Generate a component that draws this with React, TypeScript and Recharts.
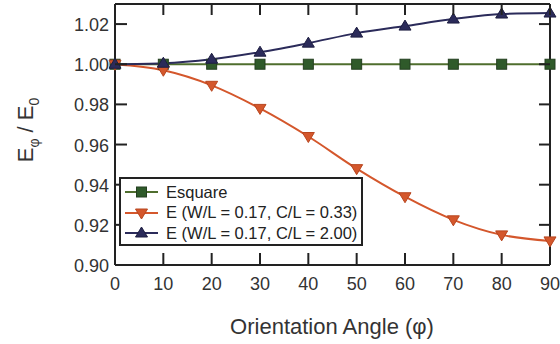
import { Line, LineChart, ReferenceLine, XAxis, YAxis } from "recharts";

const angles = [0, 10, 20, 30, 40, 50, 60, 70, 80, 90];
const esquare = [1.0, 1.0, 1.0, 1.0, 1.0, 1.0, 1.0, 1.0, 1.0, 1.0];
const eLowCL = [1.0, 0.997, 0.9895, 0.978, 0.964, 0.948, 0.934, 0.9225, 0.915, 0.912];
const eHighCL = [1.0, 1.0005, 1.0025, 1.006, 1.0105, 1.0155, 1.019, 1.0225, 1.025, 1.0255];
const xTicks = [0, 10, 20, 30, 40, 50, 60, 70, 80, 90];
const yTicks = [0.9, 0.92, 0.94, 0.96, 0.98, 1.0, 1.02];

const data = angles.map((a, i) => ({ angle: a, sq: esquare[i], low: eLowCL[i], high: eHighCL[i] }));

const FONT = "'Liberation Sans', Arial, sans-serif";
const INK = "#222";
const TEXT = "#333";
const GREEN = "#2f5a2a";
const GREEN_LINE = "#4f6e2e";
const ORANGE = "#d4572c";
const NAVY = "#2b2b5a";

// plot frame edges (px)
const LEFT = 115;
const RIGHT = 550;
const TOP = 4;
const BOTTOM = 265;

function Square(props: any) {
  const { cx, cy } = props;
  if (cx == null || cy == null) return null;
  return <rect x={cx - 5} y={cy - 5} width={10} height={10} fill={GREEN} stroke="#243f20" strokeWidth={1} />;
}

function Down(props: any) {
  const { cx, cy } = props;
  if (cx == null || cy == null) return null;
  return <path d={`M${cx - 6},${cy - 4} L${cx + 6},${cy - 4} L${cx},${cy + 6} Z`} fill={ORANGE} stroke="#b8461f" strokeWidth={1} />;
}

function Up(props: any) {
  const { cx, cy } = props;
  if (cx == null || cy == null) return null;
  return <path d={`M${cx - 6},${cy + 4} L${cx + 6},${cy + 4} L${cx},${cy - 6} Z`} fill={NAVY} stroke="#1d1d40" strokeWidth={1} />;
}

// x ticks: inward marks on bottom and top edges, label below
function bottomTick(p: any) {
  const { x, payload } = p;
  return (
    <g key={`b${payload.value}`}>
      <path d={`M${x},${BOTTOM}V${BOTTOM - 12}`} stroke={INK} strokeWidth={2} fill="none" />
      <path d={`M${x},${TOP}V${TOP + 11}`} stroke={INK} strokeWidth={2} fill="none" />
      <text x={x} y={BOTTOM + 25} textAnchor="middle" fontFamily={FONT} fontSize={18} fill={TEXT}>
        {payload.value}
      </text>
    </g>
  );
}

// y ticks: inward marks on left and right edges, label left
function leftTick(p: any) {
  const { y, payload } = p;
  return (
    <g key={`l${payload.value}`}>
      <path d={`M${LEFT},${y}H${LEFT + 12}`} stroke={INK} strokeWidth={2} fill="none" />
      <path d={`M${RIGHT},${y}H${RIGHT - 11}`} stroke={INK} strokeWidth={2} fill="none" />
      <text x={LEFT - 6} y={y + 7} textAnchor="end" fontFamily={FONT} fontSize={18} fill={TEXT}>
        {Number(payload.value).toFixed(2)}
      </text>
    </g>
  );
}

const legendItems = [
  { label: "Esquare", color: GREEN_LINE, kind: "sq" },
  { label: "E (W/L = 0.17, C/L = 0.33)", color: ORANGE, kind: "down" },
  { label: "E (W/L = 0.17, C/L = 2.00)", color: NAVY, kind: "up" },
];

function LegendBox() {
  return (
    <div
      style={{
        position: "absolute",
        left: 119,
        top: 177,
        border: "2px solid #222",
        background: "#fff",
        width: 244,
        height: 69,
        boxSizing: "border-box",
        padding: "3px 0 0 4px",
        fontFamily: FONT,
        fontSize: 16.5,
        color: "#222",
      }}
    >
      {legendItems.map((it) => (
        <div key={it.label} style={{ display: "flex", alignItems: "center", height: 20.5 }}>
          <svg width={33} height={14} style={{ marginRight: 8 }}>
            <line x1={0} y1={7} x2={33} y2={7} stroke={it.color} strokeWidth={2} />
            {it.kind === "sq" && <Square cx={16.5} cy={7} />}
            {it.kind === "down" && <Down cx={16.5} cy={7} />}
            {it.kind === "up" && <Up cx={16.5} cy={7} />}
          </svg>
          <span>{it.label}</span>
        </div>
      ))}
    </div>
  );
}

// axis titles drawn in an overlay svg
function Titles() {
  return (
    <svg width={560} height={344} style={{ position: "absolute", left: 0, top: 0, pointerEvents: "none" }}>
      <text transform="translate(33,130) rotate(-90)" textAnchor="middle" fontFamily={FONT} fontSize={22} fill={TEXT}>
        E<tspan fontSize={14} dy={6}>φ</tspan>
        <tspan dy={-6}> / E</tspan>
        <tspan fontSize={14} dy={6}>0</tspan>
      </text>
      <text x={332} y={334} textAnchor="middle" fontFamily={FONT} fontSize={22} fill={TEXT}>
        Orientation Angle (φ)
      </text>
    </svg>
  );
}

export default function App() {
  return (
    <div style={{ position: "fixed", left: 0, top: 0, width: 560, height: 344, background: "#fff" }}>
      <LineChart width={560} height={344} data={data} margin={{ top: TOP, right: 560 - RIGHT, bottom: 0, left: 0 }}>
        <XAxis
          dataKey="angle"
          type="number"
          domain={[0, 90]}
          ticks={xTicks}
          height={344 - BOTTOM}
          tickSize={0}
          tickMargin={0}
          tickLine={false}
          stroke={INK}
          strokeWidth={2}
          tick={bottomTick}
        />
        <YAxis
          type="number"
          domain={[0.9, 1.03]}
          ticks={yTicks}
          width={LEFT}
          tickSize={0}
          tickMargin={0}
          tickLine={false}
          stroke={INK}
          strokeWidth={2}
          tick={leftTick}
          allowDataOverflow
        />
        <ReferenceLine y={1.03} stroke={INK} strokeWidth={2} />
        <ReferenceLine x={90} stroke={INK} strokeWidth={2} />
        <Line dataKey="sq" stroke={GREEN_LINE} strokeWidth={2} dot={<Square />} isAnimationActive={false} />
        <Line dataKey="low" stroke={ORANGE} strokeWidth={2} dot={<Down />} type="monotone" isAnimationActive={false} />
        <Line dataKey="high" stroke={NAVY} strokeWidth={2} dot={<Up />} type="monotone" isAnimationActive={false} />
      </LineChart>
      <Titles />
      <LegendBox />
    </div>
  );
}
